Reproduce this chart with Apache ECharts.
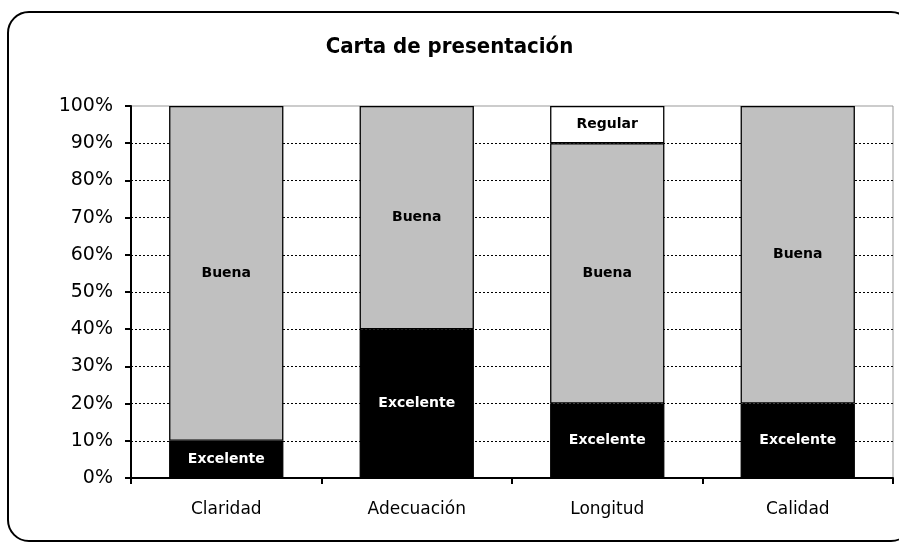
<!DOCTYPE html>
<html>
<head>
<meta charset="utf-8">
<script src="https://cdn.jsdelivr.net/npm/echarts@6/dist/echarts.min.js"></script>
<style>
html,body{margin:0;padding:0;background:#fff;width:899px;height:542px;overflow:hidden;}
#frame{position:absolute;left:7px;top:11px;width:902px;height:527px;border:2px solid #000;border-radius:22px;}
#chart{position:absolute;left:0;top:0;width:899px;height:542px;}
</style>
</head>
<body>
<div id="frame"></div>
<div id="chart"></div>
<script>
var categories = ['Claridad', 'Adecuación', 'Longitud', 'Calidad'];
var excelente = [10, 40, 20, 20];
var buena = [90, 60, 70, 80];
var regular = [0, 0, 10, 0];
var yTicks = [0, 10, 20, 30, 40, 50, 60, 70, 80, 90, 100];

var chart = echarts.init(document.getElementById('chart'));
function mk(name, data, color, textColor) {
  return {
    name: name,
    type: 'bar',
    stack: 'total',
    barWidth: '60%',
    data: data.map(function (v) { return v === 0 ? null : v; }),
    itemStyle: { color: color, borderColor: '#000', borderWidth: 1.3 },
    label: {
      show: true,
      position: 'inside',
      formatter: name,
      color: textColor,
      fontFamily: 'DejaVu Sans',
      fontWeight: 'bold',
      fontSize: 14
    }
  };
}
var gridColors = yTicks.map(function (v) { return v === 100 ? 'rgba(0,0,0,0)' : '#000'; });
chart.setOption({
  animation: false,
  title: {
    text: 'Carta de presentación',
    left: 'center',
    top: 31,
    textStyle: { fontFamily: 'DejaVu Sans Condensed', fontSize: 22, fontWeight: 'bold', color: '#000' }
  },
  grid: { left: 131, right: 6, top: 106, bottom: 64, show: true, borderColor: '#999', borderWidth: 1 },
  xAxis: {
    type: 'category',
    data: categories,
    axisLine: { lineStyle: { color: '#000', width: 2 } },
    axisTick: { show: true, length: 6, lineStyle: { color: '#000', width: 2 } },
    axisLabel: { color: '#000', fontFamily: 'DejaVu Sans', fontSize: 17, margin: 23 }
  },
  yAxis: {
    type: 'value',
    min: 0, max: 100, interval: 10,
    axisLine: { show: true, lineStyle: { color: '#000', width: 2 } },
    axisTick: { show: true, length: 6, lineStyle: { color: '#000', width: 2 } },
    axisLabel: { color: '#000', fontFamily: 'DejaVu Sans', fontSize: 19, margin: 18,
      formatter: function (v) { return yTicks.indexOf(v) >= 0 ? v + '%' : ''; } },
    splitLine: { show: true, lineStyle: { color: gridColors, type: [2, 2], width: 1 } }
  },
  series: [
    mk('Excelente', excelente, '#000000', '#ffffff'),
    mk('Buena', buena, '#c0c0c0', '#000000'),
    mk('Regular', regular, '#ffffff', '#000000')
  ]
});
</script>
</body>
</html>
